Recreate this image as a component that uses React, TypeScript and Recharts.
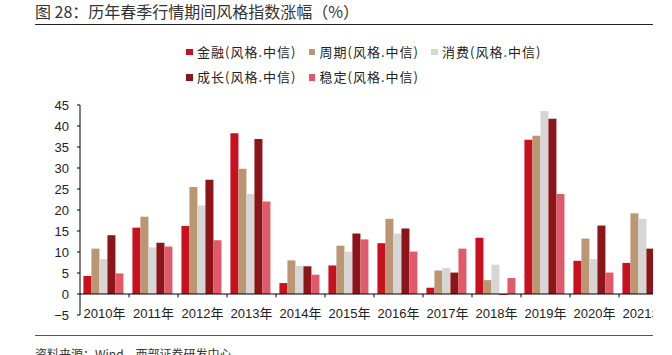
import React from 'react';
import { BarChart, Bar, XAxis, YAxis, ReferenceLine } from 'recharts';

const categories = ['2010年', '2011年', '2012年', '2013年', '2014年', '2015年', '2016年', '2017年', '2018年', '2019年', '2020年', '2021年'];
const finance = [4.3, 15.8, 16.2, 38.3, 2.6, 6.8, 12.1, 1.5, 13.4, 36.7, 7.9, 7.4];
const cyclical = [10.8, 18.4, 25.5, 29.8, 8.0, 11.5, 17.9, 5.6, 3.3, 37.7, 13.2, 19.2];
const consumer = [8.3, 11.1, 21.1, 23.8, 6.7, 10.1, 14.4, 6.2, 7.0, 43.6, 8.3, 17.9];
const growth = [14.0, 12.2, 27.2, 36.9, 6.6, 14.4, 15.6, 5.1, -0.2, 41.7, 16.3, 10.8];
const stable = [4.9, 11.3, 12.8, 22.0, 4.6, 13.0, 10.1, 10.8, 3.8, 23.8, 5.1, 9.0];
const seriesNames = ['金融(风格.中信)', '周期(风格.中信)', '消费(风格.中信)', '成长(风格.中信)', '稳定(风格.中信)'];
const yTicks = [-5, 0, 5, 10, 15, 20, 25, 30, 35, 40, 45];

const titleText = '图 28：历年春季行情期间风格指数涨幅（%）';
const sourceText = '资料来源：Wind，西部证券研发中心';

const seriesKeys = ['finance', 'cyclical', 'consumer', 'growth', 'stable'];
const seriesColors = ['#C8101F', '#BA9673', '#D6D6D6', '#8B1519', '#E05A6A'];
const seriesValues = [finance, cyclical, consumer, growth, stable];

const data = categories.map((c, i) => {
  const row: Record<string, any> = { name: c };
  seriesKeys.forEach((k, s) => {
    row[k] = seriesValues[s][i];
  });
  return row;
});

const FONT = '"Liberation Sans", Arial, "Noto Sans CJK SC", sans-serif';
const CJK = '"Noto Sans CJK SC", "Liberation Sans", sans-serif';

const XTick = (props: any) => {
  const { x, y, payload } = props;
  return (
    <text x={x} y={y - 2} textAnchor="middle" dominantBaseline="central" fontSize={13} fill="#222" fontFamily={FONT}>
      {payload.value}
    </text>
  );
};

const fmtY = (v: number) => (v < 0 ? '\u2212' + Math.abs(v) : String(v));

const legendRows = [[0, 1, 2], [3, 4]];

export default function App() {
  return (
    <div style={{ position: 'absolute', left: 0, top: 0, width: 653, height: 355, overflow: 'hidden', background: '#fff' }}>
      <div style={{ position: 'absolute', left: 0, top: 0 }}>
        <BarChart
          width={680}
          height={355}
          data={data}
          margin={{ top: 105, right: 12, bottom: 10, left: 0 }}
          barCategoryGap="7%"
          barGap={0}
        >
          <YAxis
            domain={[-5, 45]}
            ticks={yTicks}
            tickFormatter={fmtY}
            width={80}
            axisLine={{ stroke: '#000' }}
            tickLine={{ stroke: '#000' }}
            tickSize={3}
            tickMargin={8}
            interval={0}
            tick={{ fontSize: 13, fill: '#222', fontFamily: FONT }}
          />
          <XAxis
            dataKey="name"
            axisLine={false}
            tickLine={false}
            tickSize={0}
            tickMargin={0}
            height={30}
            interval={0}
            tick={<XTick />}
          />
          {seriesKeys.map((k, s) => (
            <Bar key={k} dataKey={k} name={seriesNames[s]} fill={seriesColors[s]} isAnimationActive={false} />
          ))}
          <ReferenceLine y={0} stroke="#000" strokeWidth={1} />
          {categories.map((c) => (
            <ReferenceLine
              key={'t' + c}
              segment={[{ x: c, y: 0 }, { x: c, y: -0.8 }]}
              position="end"
              stroke="#000"
              strokeWidth={1}
            />
          ))}
        </BarChart>
      </div>
      <div style={{ position: 'absolute', left: 35, top: 1.5, fontSize: 16, lineHeight: '19px', color: '#333', whiteSpace: 'nowrap', fontFamily: CJK }}>
        {titleText}
      </div>
      <div style={{ position: 'absolute', left: 35, top: 23.5, width: 618, height: 1.3, background: '#222' }} />
      {legendRows.map((row, r) => (
        <div key={r} style={{ position: 'absolute', left: 186, top: 43 + r * 25.4, height: 18, display: 'flex' }}>
          {row.map((s) => (
            <div key={s} style={{ width: 122.5, display: 'flex', alignItems: 'center', height: 18 }}>
              <div style={{ width: 6.5, height: 6.5, background: seriesColors[s], marginRight: 4.5 }} />
              <span style={{ fontSize: 13, color: '#222', fontFamily: CJK, whiteSpace: 'nowrap', lineHeight: '18px', letterSpacing: 1 }}>
                {seriesNames[s]}
              </span>
            </div>
          ))}
        </div>
      ))}
      <div style={{ position: 'absolute', left: 35, top: 334.5, width: 618, height: 1.3, background: '#555' }} />
      <div style={{ position: 'absolute', left: 35, top: 346, fontSize: 12, lineHeight: '16px', color: '#333', whiteSpace: 'nowrap', fontFamily: CJK }}>
        {sourceText}
      </div>
    </div>
  );
}
